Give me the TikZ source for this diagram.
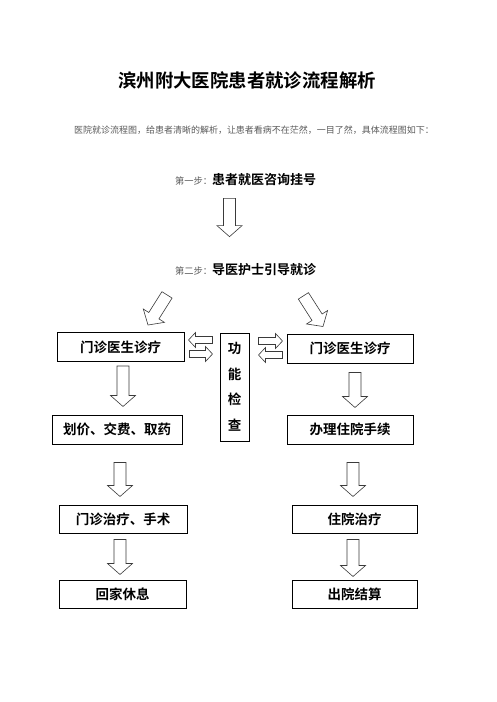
\documentclass[tikz,border=0pt]{standalone}
\usepackage{fontspec}
\setmainfont{Noto Sans CJK SC}[BoldFont={Noto Sans CJK SC Bold}]
\usepackage{tikz}
\usetikzlibrary{calc,positioning}
\definecolor{NoteGray}{HTML}{5A5A5A}
\definecolor{EdgeGray}{HTML}{3A3A3A}
\newcommand{\steplabel}[1]{{\mdseries\fontsize{9.25}{11}\selectfont\color{NoteGray}#1}}
\tikzset{
  ward/.style={draw=black, line width=1pt, minimum width=127pt, minimum height=29pt,
               inner sep=0pt, font=\fontsize{13.5}{16}\selectfont\bfseries},
  stepline/.style={inner sep=0pt, font=\fontsize{13}{15}\selectfont\bfseries},
  hollow/.style n args={3}{draw=EdgeGray, line width=0.6pt, fill=white, line join=miter,
    to path={let \p1=(\tikztostart), \p2=(\tikztotarget), \p3=($(\p2)!#3!(\p1)$) in
      ($(\p1)!#1!90:(\p2)$) -- ($(\p3)!#1!90:(\p2)$) -- ($(\p3)!#2!90:(\p2)$) -- (\p2)
      -- ($(\p3)!#2!-90:(\p2)$) -- ($(\p3)!#1!-90:(\p2)$) -- ($(\p1)!#1!-90:(\p2)$) -- cycle}},
  bigarrow/.style={hollow={6pt}{12.5pt}{11pt}},
  smallarrow/.style={hollow={3.5pt}{7.5pt}{7pt}},
}
\begin{document}
\begin{tikzpicture}[x=1pt,y=-1pt]
  \useasboundingbox (0,0) rectangle (496,702);
  \node[font=\fontsize{18.4}{22}\selectfont\bfseries] (title) at (247,80) {滨州附大医院患者就诊流程解析};
  \node[font=\fontsize{9}{11}\selectfont, text=NoteGray] (intro) at (254,130)
    {医院就诊流程图，给患者清晰的解析，让患者看病不在茫然，一目了然，具体流程图如下：};
  \node[stepline, anchor=west] (s1) at (175,180) {\steplabel{第一步：}患者就医咨询挂号};
  \node[stepline, anchor=west] (s2) at (175,270) {\steplabel{第二步：}导医护士引导就诊};

  \node[ward] (l1) at (120.5,347) {门诊医生诊疗};
  \node[ward, minimum width=130pt] (l2) at (117,429.5) {划价、交费、取药};
  \node[ward, minimum width=128pt, minimum height=28pt] (l3) at (123,519) {门诊治疗、手术};
  \node[ward, minimum height=28pt] (l4) at (122.5,594) {回家休息};
  \node[ward, minimum width=126pt] (r1) at (350,348.5) {门诊医生诊疗};
  \node[ward, minimum width=126pt] (r2) at (350,429.5) {办理住院手续};
  \node[ward, minimum width=125pt, minimum height=28pt] (r3) at (354.5,519) {住院治疗};
  \node[ward, minimum width=125pt, minimum height=28pt] (r4) at (354.5,594) {出院结算};
  \node[ward, minimum width=29pt, minimum height=108pt, align=center,
        font=\fontsize{13.5}{25.5}\selectfont\bfseries] (fn) at (234.5,387) {功\\能\\检\\查};

  \draw[bigarrow] ([xshift=54.5pt,yshift=-12pt]s1.south west) to ([xshift=54.5pt,yshift=27pt]s2.north west);
  \draw[bigarrow] ([xshift=-8pt,yshift=-18.5pt]s2.south west) to ([xshift=27.5pt,yshift=7pt]l1.north);
  \draw[bigarrow] ([xshift=-13pt,yshift=-19.5pt]s2.south east) to ([xshift=-27pt,yshift=7pt]r1.north);

  \draw[bigarrow] ([xshift=2.5pt,yshift=-4pt]l1.south) to ([xshift=2.5pt,yshift=8pt]l1.south |- l2.north);
  \draw[bigarrow] ([xshift=3pt,yshift=-18pt]l2.south) to ([xshift=-3pt,yshift=8pt]l3.north);
  \draw[bigarrow] ([xshift=-3pt,yshift=-6pt]l3.south) to ([xshift=-2.5pt,yshift=5pt]l4.north);
  \draw[bigarrow] ([xshift=5pt,yshift=-9pt]r1.south) to ([xshift=5pt,yshift=7pt]r2.north);
  \draw[bigarrow] ([xshift=3pt,yshift=-18pt]r2.south) to ([xshift=-1.5pt,yshift=8pt]r3.north);
  \draw[bigarrow] ([xshift=-1.5pt,yshift=-6pt]r3.south) to ([xshift=-1.5pt,yshift=3pt]r4.north);

  \draw[smallarrow] ([xshift=-7pt,yshift=7pt]fn.west |- l1.east) to ([xshift=4pt,yshift=7pt]l1.east);
  \draw[smallarrow] ([xshift=5pt,yshift=-7pt]l1.east) to ([xshift=-7pt,yshift=-7pt]fn.west |- l1.east);
  \draw[smallarrow] ([xshift=9pt,yshift=7.5pt]fn.east |- r1.west) to ([xshift=-4pt,yshift=7.5pt]r1.west);
  \draw[smallarrow] ([xshift=-4pt,yshift=-6.5pt]r1.west) to ([xshift=9pt,yshift=-6.5pt]fn.east |- r1.west);
\end{tikzpicture}
\end{document}
